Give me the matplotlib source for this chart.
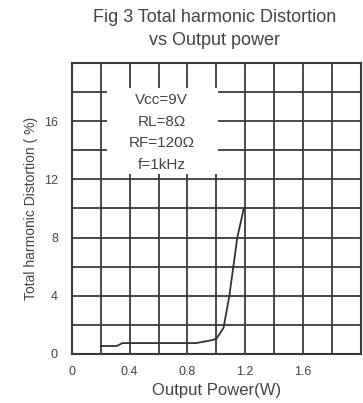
import matplotlib
matplotlib.use("Agg")
import matplotlib.pyplot as plt
from matplotlib.patches import Rectangle

plt.rcParams['font.family'] = ['Liberation Sans', 'DejaVu Sans']

power_w = [0.20, 0.31, 0.35, 0.60, 0.86, 0.97, 1.00, 1.05, 1.09, 1.145, 1.19]
thd_pct = [0.55, 0.55, 0.75, 0.75, 0.75, 0.95, 1.05, 1.8, 4.0, 8.0, 10.0]
x_ticks = [0, 0.4, 0.8, 1.2, 1.6]
x_tick_labels = ["0", "0.4", "0.8", "1.2", "1.6"]
y_ticks = [0, 4, 8, 12, 16]
y_tick_labels = ["0", "4", "8", "12", "16"]
conditions = ["Vcc=9V", "RL=8Ω", "RF=120Ω", "f=1kHz"]

fig = plt.figure(figsize=(3.63, 4.03), dpi=100)
ax = fig.add_axes([0.198, 0.1216, 0.796, 0.7221])
ax.set_xlim(0, 2.0)
ax.set_ylim(0, 20)

gc = '#3a3a3a'
tc = '#444444'
ax.set_xticks([i * 0.2 for i in range(11)], minor=True)
ax.set_yticks([i * 2 for i in range(11)], minor=True)
ax.set_xticks(x_ticks)
ax.set_xticklabels(x_tick_labels)
ax.set_yticks(y_ticks)
ax.set_yticklabels(y_tick_labels)
ax.grid(which='both', color=gc, linewidth=1.3, zorder=1)
ax.tick_params(which='both', length=0, labelsize=9, colors=tc)
ax.tick_params(axis='x', pad=9)
ax.tick_params(axis='y', pad=10)
for s in ax.spines.values():
    s.set_color(gc)
    s.set_linewidth(1.5)

# white box behind conditions text
ax.add_patch(Rectangle((0.24, 12.4), 0.77, 5.9, facecolor='white', edgecolor='none', zorder=2))
ax.text(0.62, 17.95, "\n".join(conditions), ha='center', va='top', fontsize=11,
        color=tc, linespacing=1.7, zorder=3)

ax.plot(power_w, thd_pct, color='#333333', linewidth=1.3, zorder=4)

ax.set_xlabel("Output Power(W)", fontsize=12, color=tc, labelpad=3)
ax.set_ylabel("Total harmonic Distortion ( %)", fontsize=10, color=tc, labelpad=4)
fig.text(0.592, 0.928, "Fig 3 Total harmonic Distortion\nvs Output power", ha='center', va='center',
         fontsize=13, color=tc, linespacing=1.45)

fig.savefig("out.png", dpi=100)
